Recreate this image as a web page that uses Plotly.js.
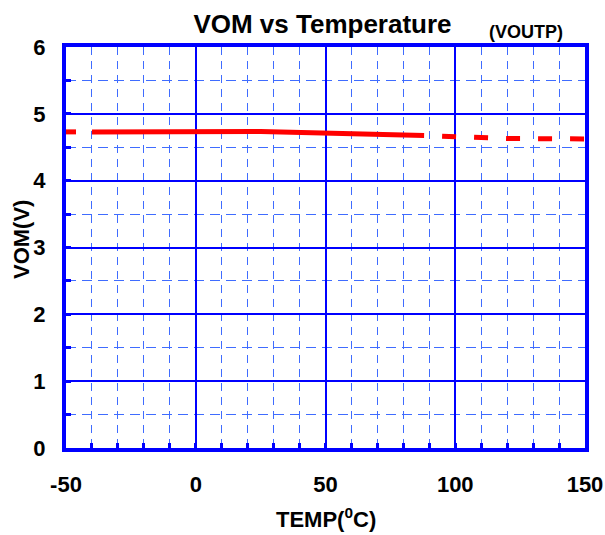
<!DOCTYPE html>
<html>
<head>
<meta charset="utf-8">
<script src="https://cdn.plot.ly/plotly-3.0.1.min.js"></script>
<style>html,body{margin:0;padding:0;background:#fff;}#chart{width:605px;height:535px;}</style>
</head>
<body>
<div id="chart"></div>
<script>
// Measured data (TEMP in °C, VOM in V)
var tempSolid = [-40, 25, 88];
var vomSolid = [4.73, 4.735, 4.675];
var tempDashLeft = [-50, -40];
var vomDashLeft = [4.73, 4.73];
var tempDashRight = [88, 100, 110, 120, 150];
var vomDashRight = [4.675, 4.66, 4.645, 4.63, 4.625];
var xTickVals = [-50, 0, 50, 100, 150];
var yTickVals = [0, 1, 2, 3, 4, 5, 6];

var red = '#ff0000';
var blue = '#0000ff';
var minorBlue = '#3f6cff';
var font = 'Liberation Sans, Arial, sans-serif';

var traces = [
  {x: tempDashLeft, y: vomDashLeft, mode: 'lines', line: {color: red, width: 5, dash: '10px,20px'}, hoverinfo: 'skip'},
  {x: tempSolid, y: vomSolid, mode: 'lines', line: {color: red, width: 5}, hoverinfo: 'skip'},
  {x: tempDashRight, y: vomDashRight, mode: 'lines', line: {color: red, width: 5, dash: '0px,18px,14px,0px'}, hoverinfo: 'skip'}
];

var layout = {
  width: 605, height: 535,
  margin: {l: 66, r: 20, t: 47, b: 87},
  paper_bgcolor: '#ffffff', plot_bgcolor: '#ffffff',
  showlegend: false,
  font: {family: font, color: '#000000'},
  title: {
    text: '<b>VOM vs Temperature</b>',
    font: {family: font, size: 26, color: '#000'},
    xref: 'paper', x: (322.5 - 66) / 519, xanchor: 'center',
    yref: 'container', y: 1 - 24 / 535, yanchor: 'middle'
  },
  annotations: [
    {text: '<b>(VOUTP)</b>', xref: 'paper', yref: 'paper',
     x: (526 - 66) / 519, y: (448 - 32) / 401, xanchor: 'center', yanchor: 'middle',
     showarrow: false, font: {family: font, size: 18, color: '#000'}},
    {text: '<b>TEMP(<sup>0</sup>C)</b>', xref: 'paper', yref: 'paper',
     x: 0.5, y: (448 - 518) / 401, xanchor: 'center', yanchor: 'middle',
     showarrow: false, font: {family: font, size: 22, color: '#000'}},
    {text: '<b>VOM(V)</b>', xref: 'paper', yref: 'paper', textangle: -90,
     x: (21 - 66) / 519, y: (448 - 240) / 401, xanchor: 'center', yanchor: 'middle',
     showarrow: false, font: {family: font, size: 22, color: '#000'}}
  ],
  xaxis: {
    range: [-50, 150], tickvals: xTickVals, ticktext: xTickVals.map(String),
    showgrid: true, gridcolor: blue, gridwidth: 2,
    zeroline: false,
    showline: true, linecolor: blue, linewidth: 4, mirror: true,
    ticks: 'inside', ticklen: 5, tickwidth: 3, tickcolor: blue,
    ticklabelstandoff: 14,
    tickfont: {family: font, size: 22, color: '#000', weight: 'bold'},
    minor: {dtick: 10, tick0: 0, showgrid: true, gridcolor: minorBlue, gridwidth: 1, griddash: '8px,6px', ticks: 'inside', ticklen: 5, tickwidth: 3, tickcolor: blue},
    fixedrange: true
  },
  yaxis: {
    range: [0, 6], tickvals: yTickVals, ticktext: yTickVals.map(String),
    showgrid: true, gridcolor: blue, gridwidth: 2,
    zeroline: false,
    showline: true, linecolor: blue, linewidth: 4, mirror: true,
    ticks: 'inside', ticklen: 5, tickwidth: 3, tickcolor: blue,
    ticklabelstandoff: 12,
    tickfont: {family: font, size: 22, color: '#000', weight: 'bold'},
    minor: {dtick: 0.5, tick0: 0, showgrid: true, gridcolor: minorBlue, gridwidth: 1, griddash: '10px,6px', ticks: 'inside', ticklen: 5, tickwidth: 3, tickcolor: blue},
    fixedrange: true
  }
};

Plotly.newPlot('chart', traces, layout, {displayModeBar: false, staticPlot: true});
</script>
</body>
</html>
